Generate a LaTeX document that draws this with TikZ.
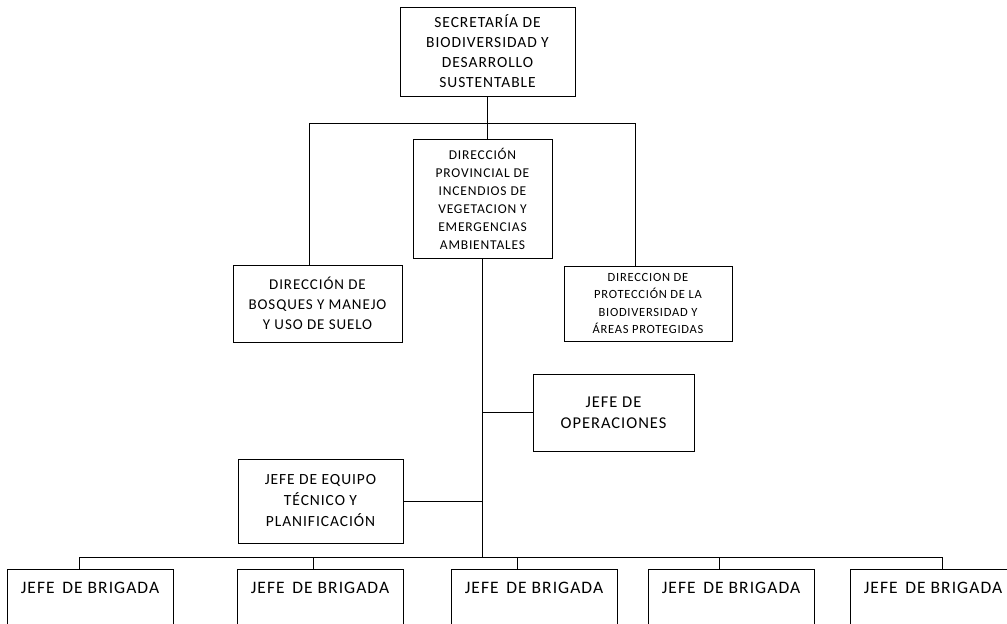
\documentclass[tikz,border=0pt]{standalone}
\usepackage{fontspec}
\setmainfont[LetterSpace=6]{Carlito}
\begin{document}
\begin{tikzpicture}[x=1pt,y=-1pt,
  box/.style={draw, line width=0.9pt, align=center, inner sep=0pt},
  ln/.style={line width=0.9pt},
  brig/.style={box, anchor=north, minimum width=166pt, text height=24pt, text depth=80pt, font=\fontsize{17.5}{20}\selectfont}]
\useasboundingbox (0,0) rectangle (1007,624);
\clip (0,0) rectangle (1007,624);
% boxes
\node[box, minimum width=175pt, minimum height=89pt, font=\fontsize{15.5}{20}\selectfont] (top) at (487.5,51.5)
  {SECRETARÍA DE\\BIODIVERSIDAD Y\\DESARROLLO\\SUSTENTABLE};
\node[box, minimum width=139pt, minimum height=119pt, font=\fontsize{13.5}{18}\selectfont] (dir) at (482.5,198.5)
  {DIRECCIÓN\\PROVINCIAL DE\\INCENDIOS DE\\VEGETACION Y\\EMERGENCIAS\\AMBIENTALES};
\node[box, minimum width=169pt, minimum height=77pt, font=\fontsize{15}{20}\selectfont] (bos) at (317.5,303.5)
  {DIRECCIÓN DE\\BOSQUES Y MANEJO\\Y USO DE SUELO};
\node[box, minimum width=168pt, minimum height=75pt, font=\fontsize{12.5}{17.5}\selectfont] (pro) at (648,303.5)
  {DIRECCION DE\\PROTECCIÓN DE LA\\BIODIVERSIDAD Y\\ÁREAS PROTEGIDAS};
\node[box, minimum width=161pt, minimum height=77pt, font=\fontsize{16.5}{21}\selectfont] (ops) at (613.5,412.5)
  {JEFE DE\\OPERACIONES};
\node[box, minimum width=165pt, minimum height=84pt, font=\fontsize{15.5}{21}\selectfont] (equ) at (320.5,501)
  {JEFE DE EQUIPO\\TÉCNICO Y\\PLANIFICACIÓN};
\node[brig] (b1) at (90,569) {JEFE\hspace{0.15em} DE BRIGADA};
\node[brig] (b2) at (320,569) {JEFE\hspace{0.15em} DE BRIGADA};
\node[brig] (b3) at (534,569) {JEFE\hspace{0.15em} DE BRIGADA};
\node[brig] (b4) at (731,569) {JEFE\hspace{0.15em} DE BRIGADA};
\node[brig] (b5) at (933,569) {JEFE\hspace{0.15em} DE BRIGADA};
% junction coordinates
\coordinate (barL) at (309,123);
\coordinate (barR) at (635,123);
\coordinate (spine) at (482,557);
\coordinate (c1) at (79,557);
\coordinate (c2) at (313,557);
\coordinate (c3) at (517,557);
\coordinate (c4) at (719,557);
\coordinate (c5) at (942,557);
% connectors
\draw[ln] (barL) -- (barR);
\draw[ln] (top.south) -- (top.south |- dir.north);
\draw[ln] (barL) -- (barL |- bos.north);
\draw[ln] (barR) -- (barR |- pro.north);
\draw[ln] (dir.south) -- (dir.south |- spine);
\draw[ln] (ops.west) -- (ops.west -| dir.south);
\draw[ln] (equ.east) -- (equ.east -| dir.south);
\draw[ln] (c1) -- (c5);
\draw[ln] (c1) -- (c1 |- b1.north);
\draw[ln] (c2) -- (c2 |- b2.north);
\draw[ln] (c3) -- (c3 |- b3.north);
\draw[ln] (c4) -- (c4 |- b4.north);
\draw[ln] (c5) -- (c5 |- b5.north);
\end{tikzpicture}
\end{document}
